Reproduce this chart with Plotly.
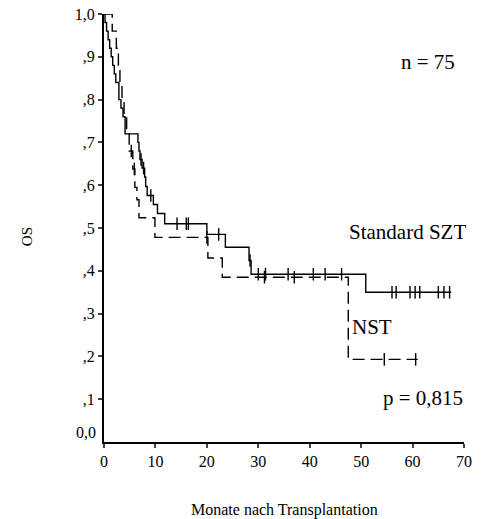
import plotly.graph_objects as go

# Standard SZT (solid) Kaplan-Meier steps: time (months) and survival after each step
std_t = [0, 0.2, 0.5, 0.8, 1.1, 1.4, 1.7, 2.0, 2.3, 2.9, 3.3, 3.7, 4.1, 6.6, 6.8, 7.0, 7.4,
         7.9, 8.1, 8.4, 9.6, 10.4, 11.8, 20.0, 23.6, 28.2, 28.6, 50.9, 67.5]
std_s = [1.0, 0.98, 0.96, 0.94, 0.92, 0.90, 0.88, 0.86, 0.84, 0.80, 0.78, 0.76, 0.72, 0.70, 0.68, 0.66, 0.64,
         0.619, 0.597, 0.576, 0.555, 0.534, 0.51, 0.485, 0.455, 0.424, 0.392, 0.35, 0.35]
std_cens = [7.2, 7.7, 9.1, 14.2, 16.0, 16.4, 22.3, 28.4, 30.0, 31.4, 35.8, 40.7, 43.0, 46.2,
            56.0, 56.8, 59.5, 60.5, 61.4, 65.0, 66.1, 67.2]

# NST (dashed)
nst_t = [0, 1.6, 2.4, 2.8, 3.1, 3.5, 3.9, 4.4, 4.9, 5.6, 6.0, 6.4, 6.8, 9.9, 20.2, 23.0, 47.5, 61.0]
nst_s = [1.0, 0.96, 0.92, 0.88, 0.84, 0.80, 0.76, 0.72, 0.68, 0.638, 0.595, 0.566, 0.524, 0.478,
         0.43, 0.385, 0.193, 0.193]
nst_cens = [5.3, 5.9, 20.0, 31.2, 37.0, 54.5, 60.6]

x_ticks = [0, 10, 20, 30, 40, 50, 60, 70]
y_ticks = [0.1, 0.2, 0.3, 0.4, 0.5, 0.6, 0.7, 0.8, 0.9, 1.0]
y_ticktext = [",1", ",2", ",3", ",4", ",5", ",6", ",7", ",8", ",9", "1,0"]


def step_at(ts, ss, t):
    v = ss[0]
    for ti, si in zip(ts, ss):
        if ti <= t:
            v = si
    return v


FONT = "Liberation Serif, Times New Roman, serif"
fig = go.Figure()

fig.add_trace(go.Scatter(x=std_t, y=std_s, mode="lines", line=dict(color="black", width=1.4, shape="hv"),
                         showlegend=False, hoverinfo="skip"))
fig.add_trace(go.Scatter(x=nst_t, y=nst_s, mode="lines",
                         line=dict(color="black", width=1.4, shape="hv", dash="12px,6px"),
                         showlegend=False, hoverinfo="skip"))
mk = dict(symbol="line-ns-open", size=9, color="black", line=dict(width=1.4, color="black"))
fig.add_trace(go.Scatter(x=std_cens, y=[step_at(std_t, std_s, t) for t in std_cens], mode="markers",
                         marker=mk, showlegend=False, hoverinfo="skip"))
fig.add_trace(go.Scatter(x=nst_cens, y=[step_at(nst_t, nst_s, t) for t in nst_cens], mode="markers",
                         marker=mk, showlegend=False, hoverinfo="skip"))

fig.update_layout(
    width=502, height=519,
    margin=dict(l=104, r=38, t=14, b=77, autoexpand=False),
    paper_bgcolor="white", plot_bgcolor="white",
    font=dict(family=FONT, size=16, color="black"),
    xaxis=dict(range=[0, 70], tickvals=x_ticks, ticks="outside", ticklen=4, tickwidth=1.5,
               showline=True, linewidth=2, linecolor="black", mirror=False,
               showgrid=False, zeroline=False, tickfont=dict(size=16)),
    yaxis=dict(range=[0, 1], tickvals=y_ticks, ticktext=y_ticktext, ticks="outside", ticklen=4,
               tickwidth=1.5, showline=True, linewidth=2, linecolor="black", mirror=False,
               showgrid=False, zeroline=False, tickfont=dict(size=16)),
    annotations=[
        dict(text="0,0", x=0, y=0, xref="paper", yref="y", xanchor="right", yanchor="middle",
             xshift=-6, yshift=10, showarrow=False, font=dict(size=16)),
        dict(text="n = 75", x=0.90, y=0.888, xref="paper", yref="y", xanchor="center",
             showarrow=False, font=dict(size=21)),
        dict(text="Standard SZT", x=0.844, y=0.49, xref="paper", yref="y", xanchor="center",
             showarrow=False, font=dict(size=21)),
        dict(text="NST", x=0.744, y=0.269, xref="paper", yref="y", xanchor="center",
             showarrow=False, font=dict(size=21)),
        dict(text="p = 0,815", x=0.886, y=0.103, xref="paper", yref="y", xanchor="center",
             showarrow=False, font=dict(size=21)),
        dict(text="OS", x=-0.215, y=0.48, xref="paper", yref="paper", textangle=-90, showarrow=False,
             xanchor="center", font=dict(size=15)),
        dict(text="Monate nach Transplantation", x=0.5, y=-0.159, xref="paper", yref="paper",
             xanchor="center", yanchor="middle", showarrow=False, font=dict(size=16)),
    ],
)

fig.write_html("out.html")
